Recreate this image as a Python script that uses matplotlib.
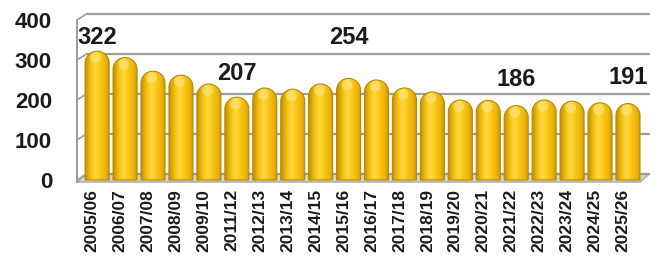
import numpy as np
import matplotlib.pyplot as plt
import matplotlib.transforms as mtransforms
from matplotlib.colors import LinearSegmentedColormap
from matplotlib.path import Path
from matplotlib.patches import PathPatch, Polygon

# Datos
seasons = ['2005/06', '2006/07', '2007/08', '2008/09', '2009/10', '2011/12',
           '2012/13', '2013/14', '2014/15', '2015/16', '2016/17', '2017/18',
           '2018/19', '2019/20', '2020/21', '2021/22', '2022/23', '2023/24',
           '2024/25', '2025/26']
values = [322, 306, 272, 262, 240, 207, 230, 227, 240, 254, 250, 230,
          220, 200, 199, 186, 200, 197, 193, 191]
labelled = {0: 355, 5: 265, 9: 355, 15: 252, 19: 255}  # índice -> altura del rótulo
y_ticks = [0, 100, 200, 300, 400]

plt.rcParams['font.family'] = ['Liberation Sans', 'DejaVu Sans']

fig = plt.figure(figsize=(6.61, 2.57), dpi=100)
ax = fig.add_axes([0.1165, 0.2802, 0.8669, 0.681])
xl, xr = -0.72, 19.79
ax.set_xlim(xl, xr)
ax.set_ylim(-12.5, 425)
for s in ax.spines.values():
    s.set_visible(False)

# pared del fondo y suelo (efecto 3D)
dx, off = 0.36, 16
grid_c = '#9c9c9c'
floor = Polygon([(xl, -5), (xr - dx, -5), (xr, off), (xl + dx, off)],
                closed=True, facecolor='#d4d4d4', edgecolor='#a8a8a8', lw=1, zorder=1)
ax.add_patch(floor)
for v in y_ticks:
    ax.plot([xl + dx, xr], [v + off, v + off], color=grid_c, lw=1.6, zorder=1,
            solid_capstyle='butt', clip_on=False)
    ax.plot([xl, xl + dx], [v, v + off], color=grid_c, lw=1.2, zorder=1, clip_on=False)
ax.plot([xl, xl], [-5, 400], color=grid_c, lw=1.4, zorder=1, clip_on=False)

# barras cilíndricas con tapa redondeada
cmap = LinearSegmentedColormap.from_list('gold', [
    (0.0, '#c28e00'), (0.2, '#f0bc0c'), (0.42, '#ffd83e'),
    (0.6, '#fbc91a'), (0.85, '#e9b20a'), (1.0, '#c99200')])
grad = np.linspace(0, 1, 64).reshape(1, -1)
w = 0.86
cap = 30
t = np.linspace(np.pi, 0, 40)
for i, v in enumerate(values):
    x0 = i - w / 2
    arc = np.column_stack([i + w / 2 * np.cos(t), v - cap + cap * np.sin(t)])
    verts = np.vstack([[x0, 0], arc, [x0 + w, 0], [x0, 0]])
    codes = [Path.MOVETO] + [Path.LINETO] * (len(verts) - 2) + [Path.CLOSEPOLY]
    patch = PathPatch(Path(verts, codes), facecolor='none', edgecolor='#b98a00',
                      lw=0.8, zorder=3)
    ax.add_patch(patch)
    im = ax.imshow(grad, cmap=cmap, extent=[x0, x0 + w, 0, v], aspect='auto',
                   zorder=2, interpolation='bicubic')
    im.set_clip_path(patch)
    # brillo en la tapa
    ax.scatter([i - 0.05], [v - cap * 0.55], s=60, color='#ffe98a',
               alpha=0.55, edgecolors='none', zorder=3)

for i, y in labelled.items():
    ax.text(i, y, str(values[i]), ha='center', va='center', fontsize=17,
            fontweight='bold', color='#1a1a1a', zorder=5)

ax.set_yticks(y_ticks)
ax.set_yticklabels([str(v) for v in y_ticks], fontsize=16, fontweight='bold',
                   color='#1a1a1a')
ax.set_xticks(range(len(seasons)))
ax.set_xticklabels(seasons, rotation=90, fontsize=12.5, fontweight='bold',
                   color='#1a1a1a')
ax.tick_params(axis='y', length=0, pad=18)
ax.tick_params(axis='x', length=0, pad=3)
shift = mtransforms.ScaledTranslation(-5 / 100, 0, fig.dpi_scale_trans)
for lab in ax.get_xticklabels():
    lab.set_transform(lab.get_transform() + shift)

fig.savefig('out.png', dpi=100)
